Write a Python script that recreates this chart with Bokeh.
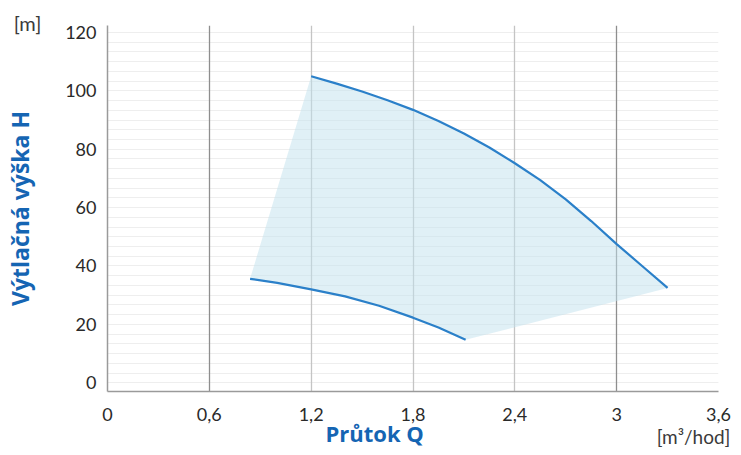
import numpy as np
from bokeh.plotting import figure
from bokeh.models import Range1d, FixedTicker, Grid, Label, Title
from bokeh.embed import file_html
from bokeh.resources import INLINE

# ---- data ----
upper_q = [1.2, 1.35, 1.5, 1.65, 1.8, 1.95, 2.1, 2.25, 2.4, 2.55, 2.7, 2.85, 3.0, 3.15, 3.3]
upper_h = [105.0, 102.5, 99.8, 96.8, 93.5, 89.7, 85.4, 80.6, 75.2, 69.4, 62.8, 55.4, 47.5, 40.0, 32.5]
lower_q = [0.84, 1.0, 1.2, 1.4, 1.6, 1.8, 1.95, 2.11]
lower_h = [35.6, 34.2, 32.0, 29.6, 26.4, 22.3, 18.9, 14.7]

x_ticks = [0, 0.6, 1.2, 1.8, 2.4, 3.0, 3.6]
x_tick_labels = ["0", "0,6", "1,2", "1,8", "2,4", "3", "3,6"]
y_ticks = [0, 20, 40, 60, 80, 100, 120]
y_tick_labels = ["0", "20", "40", "60", "80", "100", "120"]

x_title = "Průtok Q"
y_title = "Výtlačná výška H"
x_unit = "[m³/hod]"
y_unit = "[m]"

FONT = "Lato"
TFONT = "Open Sans"
BLUE_T = "#1565b3"
LINE = "#2b80c9"
FILL = "#c2e2ee"

p = figure(width=733, height=447, output_backend="svg", toolbar_location=None,
           x_range=Range1d(0, 3.6), y_range=Range1d(-3, 122.4),
           min_border_left=107, min_border_right=15, min_border_top=25,
           min_border_bottom=56)
p.outline_line_color = None
p.background_fill_color = "white"

# fill region between curves
poly_x = [lower_q[0]] + upper_q + lower_q[::-1]
poly_y = [lower_h[0]] + upper_h + lower_h[::-1]
p.patch(poly_x, poly_y, fill_color=FILL, fill_alpha=0.5, line_color=None)

p.line(upper_q, upper_h, line_color=LINE, line_width=2.2)
p.line(lower_q, lower_h, line_color=LINE, line_width=2.2)

# axes
minor_y = [float(v) for v in np.arange(0, 123, 20.0 / 6)]
p.xaxis.ticker = FixedTicker(ticks=x_ticks)
p.yaxis.ticker = FixedTicker(ticks=y_ticks, minor_ticks=minor_y)
p.xaxis.major_label_overrides = {t: l for t, l in zip(x_ticks, x_tick_labels)}
p.yaxis.major_label_overrides = {t: l for t, l in zip(y_ticks, y_tick_labels)}
for ax in (p.xaxis, p.yaxis):
    ax.axis_line_color = "#9a9a9a"
    ax.axis_line_width = 1.5
    ax.major_tick_line_color = None
    ax.minor_tick_line_color = None
    ax.major_label_text_font = FONT
    ax.major_label_text_font_size = "18px"
    ax.major_label_text_color = "#2a2a2a"
p.xaxis.major_label_standoff = 10
p.yaxis.major_label_standoff = 5

# y title as axis label
p.yaxis.axis_label = y_title
p.yaxis.axis_label_text_font = TFONT
p.yaxis.axis_label_text_font_size = "23px"
p.yaxis.axis_label_text_font_style = "bold"
p.yaxis.axis_label_text_color = BLUE_T
p.yaxis.axis_label_standoff = 26

# grids
p.ygrid.grid_line_color = "#eeeeee"
p.ygrid.minor_grid_line_color = "#eeeeee"
p.ygrid.grid_line_width = 1
p.ygrid.level = "image"
p.xgrid.ticker = FixedTicker(ticks=[1.2, 1.8, 2.4, 3.6])
p.xgrid.grid_line_color = "#c4c4c4"
p.xgrid.grid_line_width = 1.3
dark = Grid(dimension=0, ticker=FixedTicker(ticks=[0.6, 3.0]),
            grid_line_color="#8e8e8e", grid_line_width=1.3)
p.add_layout(dark)

# unit labels in side panels (not clipped by the frame)
p.add_layout(Label(x=3.453, y=-18.4, text=x_unit, text_font=FONT,
                   text_font_size="19px", text_color="#3a3a3a",
                   text_align="center", text_baseline="middle"), "below")
p.add_layout(Label(x=-0.471, y=123.4, text=y_unit, text_font=FONT,
                   text_font_size="20px", text_color="#3a3a3a",
                   text_align="center", text_baseline="middle"), "above")

# x title
p.add_layout(Title(text=x_title, align="left", offset=218, standoff=-58,
                   vertical_align="top", text_font=TFONT,
                   text_font_size="22px", text_font_style="bold",
                   text_color=BLUE_T), "below")

open("out.html", "w").write(file_html(p, INLINE))
